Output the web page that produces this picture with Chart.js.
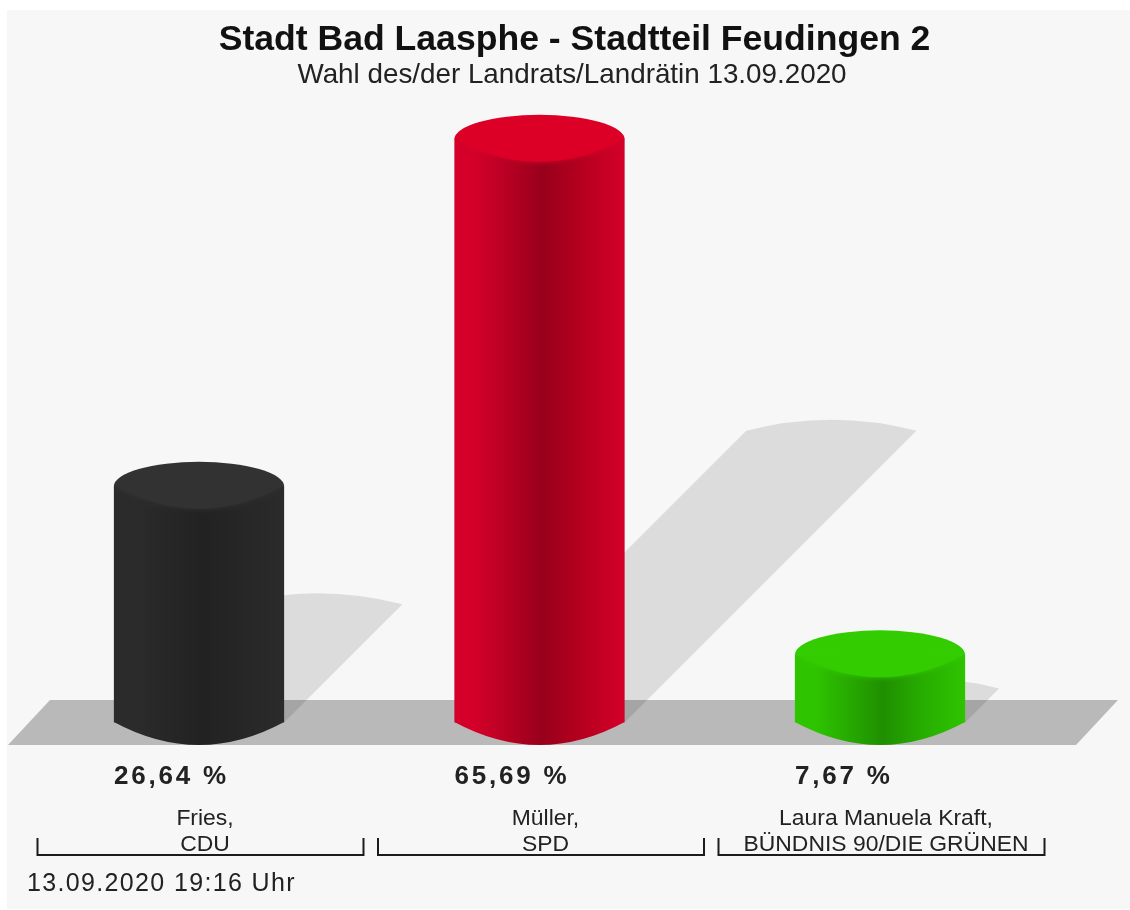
<!DOCTYPE html>
<html lang="de">
<head>
<meta charset="utf-8">
<title>Stadt Bad Laasphe - Stadtteil Feudingen 2</title>
<script src="https://cdn.jsdelivr.net/npm/chart.js@4/dist/chart.umd.js"></script>
<style>
html,body{margin:0;padding:0;background:#fff;}
canvas{display:block;}
</style>
</head>
<body>
<canvas id="c" width="1130" height="910"></canvas>
<script>
const titleText = "Stadt Bad Laasphe - Stadtteil Feudingen 2";
const subtitleText = "Wahl des/der Landrats/Landrätin 13.09.2020";
const footerText = "13.09.2020 19:16 Uhr";
const candidates = [["Fries,", "CDU"], ["Müller,", "SPD"], ["Laura Manuela Kraft,", "BÜNDNIS 90/DIE GRÜNEN"]];
const shares = [26.64, 65.69, 7.67];
const capColors = ["#323232", "#dc0027", "#33cc00"];
const edgeColors = ["#2b2b2b", "#d40029", "#2ec400"];
const coreColors = ["#222222", "#98001c", "#1f8f00"];
const midColors = ["#262626", "#b5001f", "#27ac00"];

const FONT = '"Liberation Sans", Arial, sans-serif';
const RY = 23;

function sideGradient(ctx, left, right, i) {
  const g = ctx.createLinearGradient(left, 0, right, 0);
  g.addColorStop(0, edgeColors[i]);
  g.addColorStop(0.12, edgeColors[i]);
  g.addColorStop(0.52, coreColors[i]);
  g.addColorStop(0.74, midColors[i]);
  g.addColorStop(1, edgeColors[i]);
  return g;
}

// Parabolic arc from (cx-rx, y) to (cx+rx, y) bulging by dy (dy<0 = upward).
function lensArc(c, cx, y, rx, dy) {
  c.quadraticCurveTo(cx, y + 2 * dy, cx + rx, y);
}

const cylinderPlugin = {
  id: "cylinder",
  afterLayout(chart) {
    for (const b of chart.boxes) {
      if (!b.options) continue;
      let mid = null;
      if (b.options.text === titleText) mid = 574.5;
      if (b.options.text === subtitleText) mid = 572;
      if (mid !== null) {
        b.left = mid - chart.width / 2;
        b.right = mid + chart.width / 2;
      }
    }
  },
  beforeDraw(chart) {
    const c = chart.ctx;
    c.save();
    c.fillStyle = "#ffffff";
    c.fillRect(0, 0, chart.width, chart.height);
    c.fillStyle = "#f7f7f7";
    c.fillRect(7, 10, chart.width - 7, chart.height - 11);
    c.restore();
  },
  beforeDatasetsDraw(chart) {
    const c = chart.ctx;
    const y0 = chart.scales.y.getPixelForValue(0);
    c.save();
    c.fillStyle = "#b9b9b9";
    c.beginPath();
    c.moveTo(8, y0 + 22.5);
    c.lineTo(50, y0 - 22.5);
    c.lineTo(1118, y0 - 22.5);
    c.lineTo(1076, y0 + 22.5);
    c.closePath();
    c.fill();
    c.fillStyle = "rgba(0,0,0,0.105)";
    chart.getDatasetMeta(0).data.forEach((bar) => {
      const off = (bar.base - bar.y) * 0.5;
      const rx = bar.width / 2;
      c.beginPath();
      c.moveTo(bar.x - rx, bar.base);
      c.lineTo(bar.x - rx + off, bar.base - off);
      lensArc(c, bar.x + off, bar.base - off, rx, -11);
      c.lineTo(bar.x + rx, bar.base);
      c.closePath();
      c.fill();
    });
    c.restore();
  },
  afterDatasetsDraw(chart) {
    const c = chart.ctx;
    const sx = chart.scales.x;
    chart.getDatasetMeta(0).data.forEach((bar, i) => {
      const rx = bar.width / 2;
      c.save();
      // rounded foot of the cylinder
      c.fillStyle = sideGradient(c, bar.x - rx, bar.x + rx, i);
      c.beginPath();
      c.moveTo(bar.x - rx, bar.base - 0.5);
      lensArc(c, bar.x, bar.base - 0.5, rx, RY);
      c.closePath();
      c.fill();
      // soft lower edge of the top cap, kept inside the body
      c.save();
      c.beginPath();
      c.rect(bar.x - rx, bar.y, bar.width, RY + 12);
      c.clip();
      c.fillStyle = capColors[i];
      c.shadowColor = capColors[i];
      c.shadowBlur = 5;
      c.beginPath();
      c.moveTo(bar.x - rx, bar.y);
      lensArc(c, bar.x, bar.y, rx, RY);
      c.closePath();
      c.fill();
      c.restore();
      // upper half of the top cap
      c.fillStyle = capColors[i];
      c.beginPath();
      c.ellipse(bar.x, bar.y + 0.5, rx, RY + 1.5, 0, Math.PI, 2 * Math.PI);
      c.closePath();
      c.fill();
      // value label
      c.fillStyle = "#222222";
      c.font = "bold 26px " + FONT;
      c.letterSpacing = "2.8px";
      c.textAlign = "left";
      c.textBaseline = "middle";
      c.fillText(shares[i].toFixed(2).replace(".", ",") + " %", bar.x - rx, 777);
      c.letterSpacing = "0px";
      // bracket below the category
      const cx = sx.getPixelForTick(i) + 1.5;
      c.strokeStyle = "#1c1c1c";
      c.lineWidth = 2;
      c.beginPath();
      c.moveTo(cx - 163, 838);
      c.lineTo(cx - 163, 855);
      c.lineTo(cx + 163, 855);
      c.lineTo(cx + 163, 838);
      c.stroke();
      c.restore();
    });
    c.save();
    c.fillStyle = "#222222";
    c.font = "25px " + FONT;
    c.letterSpacing = "1.35px";
    c.textAlign = "left";
    c.textBaseline = "middle";
    c.fillText(footerText, 27, 884);
    c.restore();
  }
};

new Chart(document.getElementById("c"), {
  type: "bar",
  data: {
    labels: candidates,
    datasets: [{
      data: shares,
      barPercentage: 0.5,
      categoryPercentage: 1,
      borderWidth: 0,
      backgroundColor(ctx) {
        const area = ctx.chart.chartArea;
        if (!area) return edgeColors[ctx.dataIndex];
        const band = (area.right - area.left) / shares.length;
        const cx = area.left + band * (ctx.dataIndex + 0.5);
        return sideGradient(ctx.chart.ctx, cx - band / 4, cx + band / 4, ctx.dataIndex);
      }
    }]
  },
  options: {
    responsive: false,
    animation: false,
    layout: { padding: { left: 28.75, right: 79.75, top: 0, bottom: 0 } },
    plugins: {
      legend: { display: false },
      tooltip: { enabled: false },
      title: {
        display: true,
        text: titleText,
        color: "#111111",
        font: { family: FONT, size: 35.6, weight: "bold", lineHeight: 1.1 },
        padding: { top: 20.4, bottom: 0 }
      },
      subtitle: {
        display: true,
        text: subtitleText,
        color: "#222222",
        font: { family: FONT, size: 27.8, weight: "normal", lineHeight: 1.1 },
        padding: { top: 0, bottom: 10.36 }
      }
    },
    scales: {
      x: {
        grid: { display: false, drawTicks: false },
        border: { display: false },
        afterFit(scale) { scale.height = 187.5; },
        ticks: {
          color: "#222222",
          font: { family: FONT, size: 22.9, lineHeight: 1.16 },
          padding: 82.5,
          labelOffset: 6,
          autoSkip: false,
          maxRotation: 0,
          minRotation: 0
        }
      },
      y: { display: false, min: 0, max: 70 }
    }
  },
  plugins: [cylinderPlugin]
});
</script>
</body>
</html>
